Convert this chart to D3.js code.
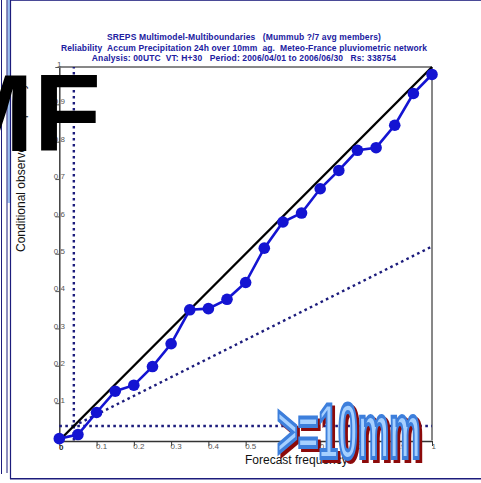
<!DOCTYPE html>
<html>
<head>
<meta charset="utf-8">
<script src="https://cdn.jsdelivr.net/npm/d3@7"></script>
<style>
  body { margin: 0; background: #fff; }
  svg { display: block; }
</style>
</head>
<body>
<svg id="chart" width="481" height="483"></svg>
<script>
// Reliability diagram: forecast probability bins vs observed frequency
const forecastProb = [0, 0.05, 0.1, 0.15, 0.2, 0.25, 0.3, 0.35, 0.4, 0.45, 0.5,
                      0.55, 0.6, 0.65, 0.7, 0.75, 0.8, 0.85, 0.9, 0.95, 1];
const observedFreq = [0.005, 0.016, 0.075, 0.132, 0.148, 0.198, 0.259, 0.350, 0.353, 0.378, 0.423,
                      0.515, 0.585, 0.609, 0.674, 0.723, 0.777, 0.784, 0.844, 0.929, 0.980];
const tickValues = [0, 0.1, 0.2, 0.3, 0.4, 0.5, 0.6, 0.7, 0.8, 0.9, 1];
const tickLabels = ["0", "0.1", "0.2", "0.3", "0.4", "0.5", "0.6", "0.7", "0.8", "0.9", "1"];
const climFreq = 0.039;          // sample climatology
const titleLines = [
  "SREPS Multimodel-Multiboundaries   (Mummub ?/7 avg members)",
  "Reliability  Accum Precipitation 24h over 10mm  ag.  Meteo-France pluviometric network",
  "Analysis: 00UTC  VT: H+30   Period: 2006/04/01 to 2006/06/30   Rs: 338754"
];
const xLabel = "Forecast frequency";
const yLabel = "Conditional observed frequency";
const stampText = ">=10mm";
const logoLetters = ["M", "F"];

const svg = d3.select("#chart");
const navy = "#1c1c7c";
const dataBlue = "#1414d2";
const font = "Liberation Sans, Arial, sans-serif";

// Window frame on the left and bottom
svg.append("rect").attr("x", 7.5).attr("y", 0).attr("width", 2.5).attr("height", 203).attr("fill", "#9cc0f0");
svg.append("line").attr("x1", 1.5).attr("x2", 1.5).attr("y1", 0).attr("y2", 474).attr("stroke", navy).attr("stroke-width", 1);
svg.append("line").attr("x1", 7).attr("x2", 7).attr("y1", 0).attr("y2", 473).attr("stroke", navy).attr("stroke-width", 1);
svg.append("line").attr("x1", 10.5).attr("x2", 10.5).attr("y1", 0).attr("y2", 479).attr("stroke", navy).attr("stroke-width", 1.2);
svg.append("line").attr("x1", 10).attr("x2", 481).attr("y1", 478.8).attr("y2", 478.8).attr("stroke", navy).attr("stroke-width", 1.6);
svg.append("line").attr("x1", 11).attr("x2", 481).attr("y1", 0.5).attr("y2", 0.5).attr("stroke", navy).attr("stroke-width", 0.8);

const x = d3.scaleLinear().domain([0, 1]).range([59.3, 432]);
const y = d3.scaleLinear().domain([0, 1]).range([440.5, 67]);

// Plot box (top and right edges)
svg.append("path")
  .attr("d", `M${x(0)},${y(1)}H${x(1)}V${y(0)}`)
  .attr("fill", "none").attr("stroke", "#111").attr("stroke-width", 1);

// Axes
const xAxis = svg.append("g")
  .attr("transform", `translate(0,${y(0) + 0.5})`)
  .call(d3.axisBottom(x).tickValues(tickValues).tickFormat((d, i) => tickLabels[i])
        .tickSize(5).tickSizeOuter(0).tickPadding(2));
xAxis.select(".domain").attr("stroke", "#333").attr("stroke-width", 1.4);
xAxis.selectAll(".tick line").attr("stroke", "#333");
xAxis.selectAll(".tick text")
  .attr("text-anchor", "start").attr("x", -1).attr("y", 2).attr("dy", "0.71em")
  .attr("fill", "#555").style("font-family", font).style("font-size", "8px");

const yAxis = svg.append("g")
  .attr("transform", `translate(${x(0)},0)`)
  .call(d3.axisLeft(y).tickValues(tickValues).tickFormat((d, i) => tickLabels[i])
        .tickSize(4).tickSizeOuter(0));
yAxis.select(".domain").attr("stroke", "#333").attr("stroke-width", 1.4);
yAxis.selectAll(".tick line").attr("stroke", "#555");
yAxis.selectAll(".tick text")
  .attr("text-anchor", "middle").attr("x", 0).attr("dy", "-0.05em")
  .attr("fill", "#555").style("font-family", font).style("font-size", "8px");
svg.selectAll(".tick text").filter(d => d === 0).remove();
svg.append("text").attr("x", x(0) + 2).attr("y", y(0) + 9)
  .attr("text-anchor", "middle").attr("fill", "#222")
  .style("font-family", font).style("font-size", "8px").style("font-weight", "bold")
  .text(tickLabels[0]);

// Climatology and no-skill reference lines
const dotted = { stroke: navy, "stroke-width": 2.4, "stroke-dasharray": "2.6,3.4", fill: "none" };
function refLine(pts) {
  const p = svg.append("path").attr("d", d3.line().x(d => x(d[0])).y(d => y(d[1]))(pts));
  Object.entries(dotted).forEach(([k, v]) => p.attr(k, v));
}
refLine([[climFreq, 0], [climFreq, 1]]);
refLine([[0, climFreq], [1, climFreq]]);
refLine([[climFreq, climFreq], [1, (1 + climFreq) / 2]]);

// Perfect reliability diagonal
svg.append("path")
  .attr("d", d3.line().x(d => x(d)).y(d => y(d))([0, 1]))
  .attr("stroke", "#000").attr("stroke-width", 2.4).attr("fill", "none");

// Reliability curve
const pts = forecastProb.map((p, i) => [p, observedFreq[i]]);
svg.append("path")
  .attr("d", d3.line().x(d => x(d[0])).y(d => y(d[1]))(pts))
  .attr("stroke", dataBlue).attr("stroke-width", 2.6).attr("fill", "none");
svg.selectAll("circle.pt").data(pts).enter().append("circle")
  .attr("class", "pt").attr("cx", d => x(d[0])).attr("cy", d => y(d[1])).attr("r", 5.8)
  .attr("fill", dataBlue);

// Titles
svg.selectAll("text.title").data(titleLines).enter().append("text")
  .attr("class", "title").attr("x", 244).attr("y", (d, i) => 40 + i * 10.7)
  .attr("text-anchor", "middle").attr("fill", "#2020a0")
  .style("white-space", "pre").style("letter-spacing", "0.12px")
  .style("font-family", font).style("font-size", "8.5px").style("font-weight", "bold")
  .text(d => d);

// Axis titles
svg.append("text").attr("x", 245).attr("y", 464)
  .attr("fill", "#111").style("font-family", font).style("font-size", "12px")
  .text(xLabel);
svg.append("text").attr("transform", "translate(25,252) rotate(-90)")
  .attr("fill", "#111").style("font-family", font).style("font-size", "12px")
  .text(yLabel);

// Threshold stamp
const stamp = svg.append("g").attr("transform", "translate(277,458) scale(0.46,1)")
  .style("font-family", font).style("font-size", "77px").style("font-weight", "bold");
stamp.append("text").attr("x", 6).attr("y", 3).attr("fill", "#8c0a0a").attr("stroke", "#8c0a0a").attr("stroke-width", 4).text(stampText);
stamp.append("text").attr("fill", "#a6d0ff").attr("stroke", "#3d7fdc").attr("stroke-width", 4).text(stampText);

// Logo
const logo = svg.append("text").attr("x", -58).attr("y", 151)
  .attr("fill", "#000").style("font-family", font)
  .style("font-size", "110px").style("font-weight", "bold");
logo.append("tspan").text(logoLetters[0]);
logo.append("tspan").attr("dx", 0).text(logoLetters[1]);
</script>
</body>
</html>
